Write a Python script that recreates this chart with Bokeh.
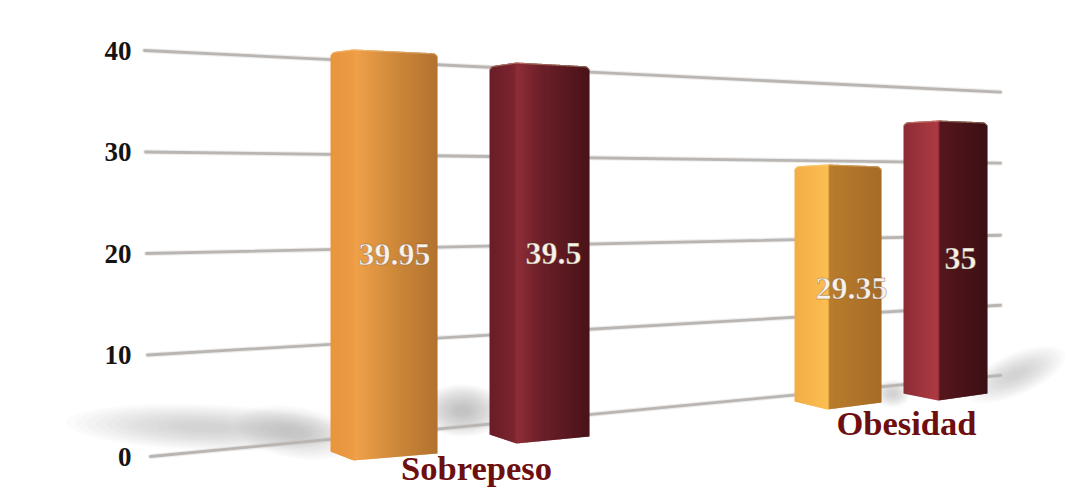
import numpy as np
from bokeh.plotting import figure
from bokeh.models import Range1d
from bokeh.core.properties import value
from bokeh.embed import file_html
from bokeh.resources import INLINE

# ---- chart values
categories = ["Sobrepeso", "Obesidad"]
bar_values = [39.95, 39.5, 29.35, 35.0]
bar_labels = ["39.95", "39.5", "29.35", "35"]
tick_values = [0, 10, 20, 30, 40]

# ---- layout (screen px for x, perspective factors for y)
PX_PER_UNIT = 10.15
ZERO_PX = 456.0
def v(px):
    return (ZERO_PX - px) / PX_PER_UNIT

bar_x = [(330, 353, 437), (489, 516, 589), (794, 827, 881), (903, 938, 987)]
bar_base_px = [460, 443, 409, 400]
bar_k = [10.29, 9.646, 8.35, 8.0]          # px per unit at each bar's depth
bar_side_rise = [(9, 7), (9, 7), (8, 7), (7, 7)]   # bottom corners above the fold
bar_top_drop = [(3, 4), (4, 4), (2, 2), (2, 2)]    # top corners below the fold
bar_stops = [
    [(0, "#E8953C"), (.20, "#EC9B44"), (.24, "#F0A048"), (.6, "#CE883A"), (1, "#B2722F")],
    [(0, "#6A1D27"), (.24, "#7A2530"), (.28, "#8E2E37"), (.5, "#6E2029"), (1, "#481318")],
    [(0, "#F1AE47"), (.34, "#FBBC50"), (.385, "#FDBF52"), (.40, "#B97D2C"), (1, "#A66C27")],
    [(0, "#8C2C36"), (.38, "#AB3A42"), (.415, "#A83840"), (.43, "#56171D"), (1, "#3B1015")],
]
label_pos_px = [(394, 254), (553, 253), (851, 288), (960, 258)]
cat_pos_px = [(476, 467), (906, 422)]

grid_left_x = [150, 147, 146, 145, 144]
grid_right_x = 1000
grid_right_value = [8.0, 14.9, 21.8, 28.9, 35.9]

# floor shadows: (centre x, centre y, half width, half height, tilt px across width, alpha)
shadows = [
    (205, 427, 140, 23, 5, 0.035),
    (295, 432, 60, 26, 8, 0.04),
    (462, 410, 42, 26, 0, 0.05),
    (1015, 374, 50, 22, -18, 0.04),
    (892, 393, 18, 14, 0, 0.03),
]

p = figure(width=1082, height=488, output_backend="svg", toolbar_location=None,
           x_range=Range1d(0, 1082), y_range=Range1d(v(488), v(0)),
           min_border=0, outline_line_color=None, background_fill_color="white",
           border_fill_color="white")
p.axis.visible = False
p.grid.visible = False

# soft floor shadows: stacked shrinking ellipses
theta = np.linspace(0, 2 * np.pi, 48, endpoint=False)
for cx, cy, hw, hh, tilt, a in shadows:
    xs, ys = [], []
    for s in np.linspace(1.0, 0.2, 12):
        qx = cx + hw * s * np.cos(theta)
        qy = cy + hh * s * np.sin(theta) + tilt * s * np.cos(theta)
        xs.append(list(qx))
        ys.append([v(y) for y in qy])
    p.patches(xs, ys, fill_color="#8d8d8d", fill_alpha=a, line_color=None)

# grid lines
gl_y1 = grid_right_value
p.segment(grid_left_x, tick_values, [grid_right_x] * 5, gl_y1,
          line_color="#BBB7B4", line_width=5, line_alpha=0.25, line_cap="round")
p.segment(grid_left_x, tick_values, [grid_right_x] * 5, gl_y1,
          line_color="#B9B5B2", line_width=2.8, line_cap="round")

def hex2rgb(h):
    return np.array([int(h[i:i + 2], 16) for i in (1, 3, 5)], float)

def grad(stops, t):
    ps = [s[0] for s in stops]
    cs = np.array([hex2rgb(s[1]) for s in stops])
    c = [np.interp(t, ps, cs[:, i]) for i in range(3)]
    return "#%02x%02x%02x" % tuple(int(round(x)) for x in c)

# bars as thin vertical strips carrying the shading
for val, (xl, xf, xr), base, k, rise, drop, stops in zip(
        bar_values, bar_x, bar_base_px, bar_k, bar_side_rise, bar_top_drop, bar_stops):
    top_px = base - val * k
    fx = [xl, xf, xr]
    bot = lambda x: np.interp(x, fx, [base - rise[0], base, base - rise[1]])
    top = lambda x: (np.interp(x, fx, [top_px + drop[0], top_px, top_px + drop[1]])
                     + 3.0 * np.clip(1 - (x - xl) / 4, 0, 1) ** 2
                     + 3.0 * np.clip(1 - (xr - x) / 4, 0, 1) ** 2)
    edges = np.arange(xl, xr + 1e-6, 1.0)
    xs, ys, cols = [], [], []
    for a, b in zip(edges[:-1], edges[1:]):
        b2 = min(b + 0.6, xr)
        xs.append([a, b2, b2, a])
        ys.append([v(top(a)), v(top(b2)), v(bot(b2)), v(bot(a))])
        cols.append(grad(stops, ((a + b) / 2 - xl) / (xr - xl)))
    p.patches(xs, ys, fill_color=cols, line_color=None)
    tx = list(edges)
    p.line(tx, [v(top(x) + 0.6) for x in tx], line_color="#FFE0A8", line_alpha=0.35, line_width=1.2)

serif = value("Liberation Serif")
# y tick labels
p.text([131] * 5, tick_values, text=[str(t) for t in tick_values], text_font=serif,
       text_font_style="bold", text_font_size="27px", text_color="#141414",
       text_align="right", text_baseline="middle")

# value labels
p.text([q[0] for q in label_pos_px], [v(q[1]) for q in label_pos_px], text=bar_labels,
       text_font=serif, text_font_style="bold", text_font_size="32px",
       text_color="#F8F2E8", text_align="center", text_baseline="middle",
       text_outline_color="rgba(74,42,20,0.3)")

# category labels
p.text([q[0] for q in cat_pos_px], [v(q[1]) for q in cat_pos_px], text=categories,
       text_font=serif, text_font_style="bold", text_font_size="34.5px",
       text_color="#6E0E0E", text_align="center", text_baseline="middle")

open("out.html", "w").write(file_html(p, INLINE))
